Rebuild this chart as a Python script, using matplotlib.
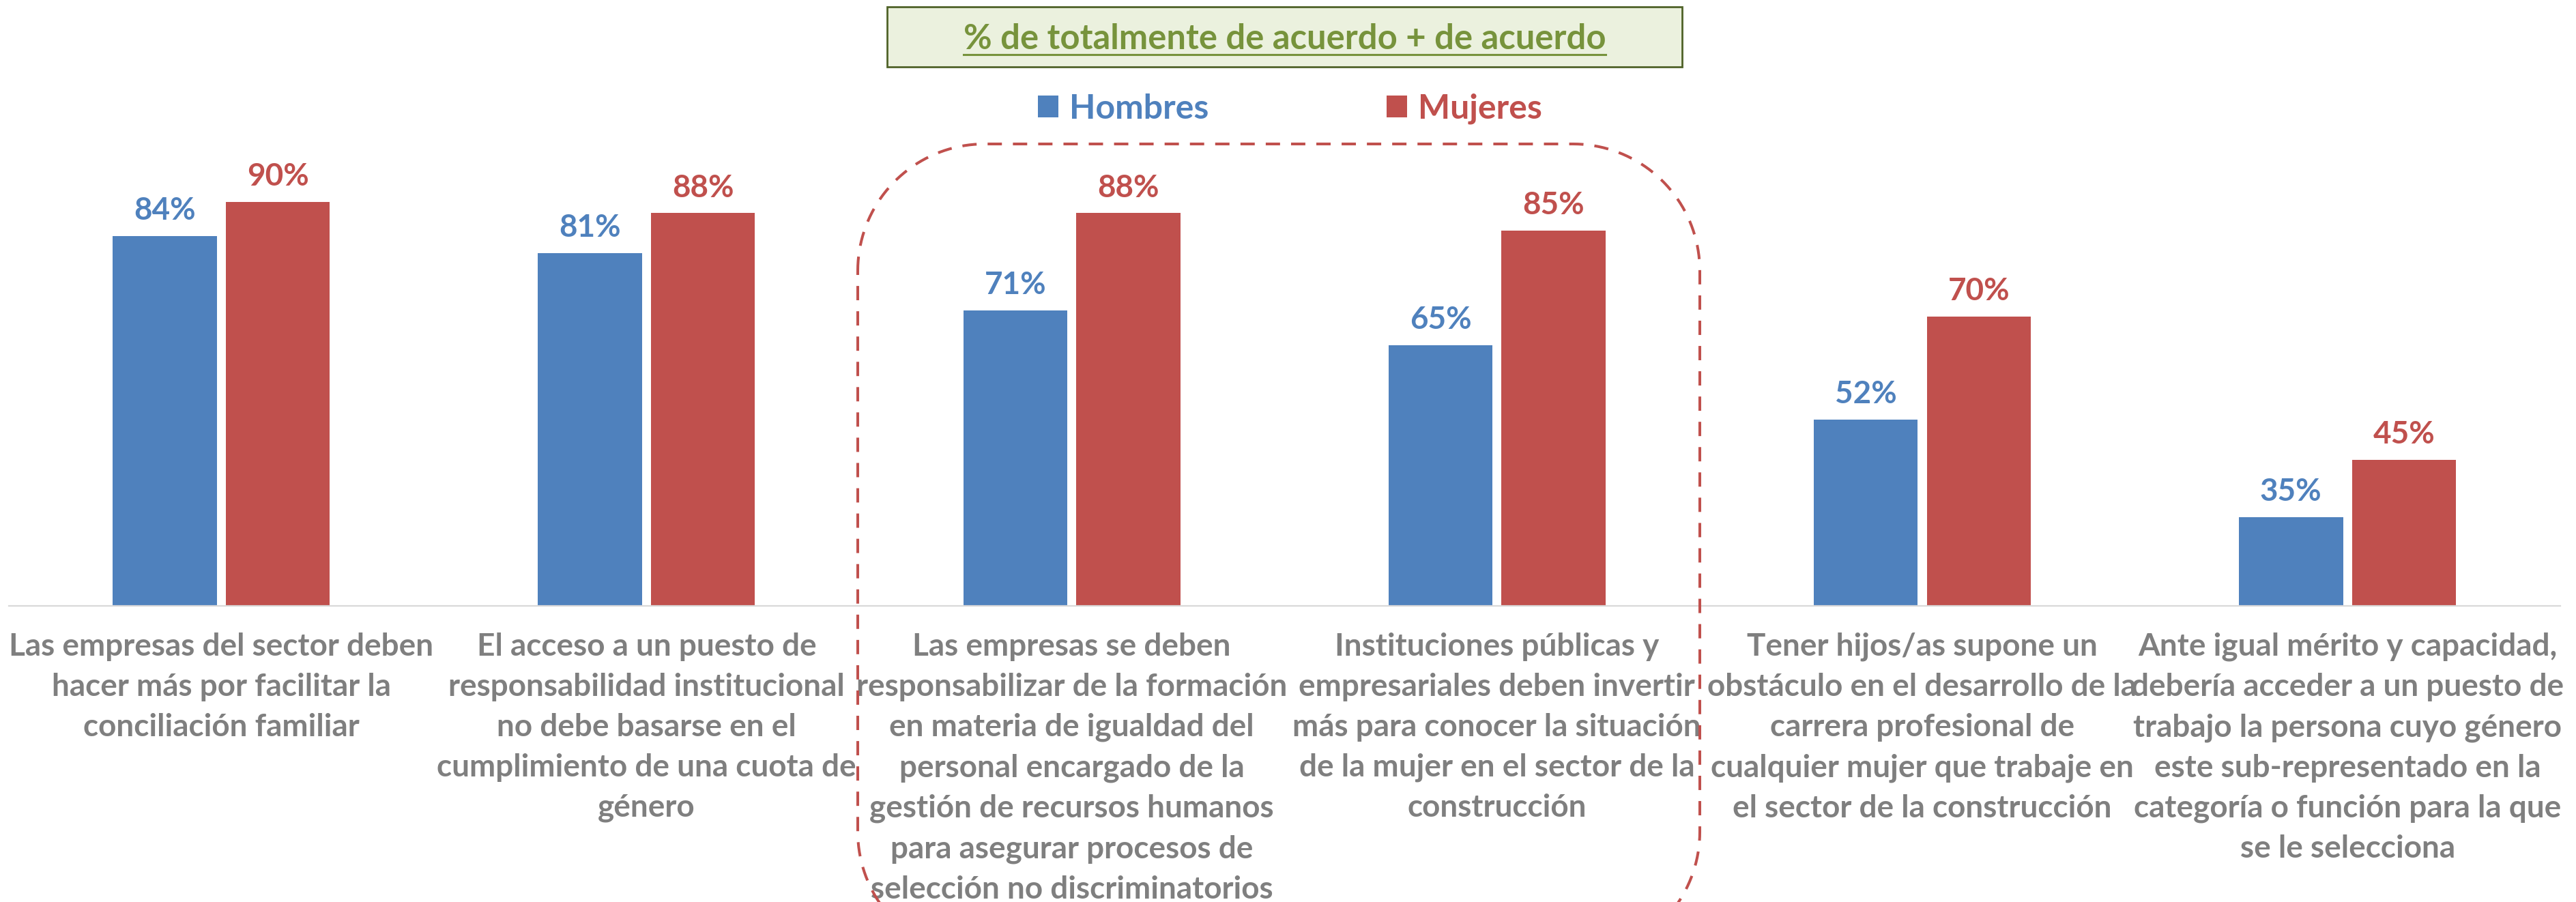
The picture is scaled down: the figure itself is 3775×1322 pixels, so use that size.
import numpy as np
import matplotlib
matplotlib.use('Agg')
import matplotlib.pyplot as plt
from matplotlib.patches import Rectangle
from matplotlib.lines import Line2D

plt.rcParams['font.family'] = ['Lato', 'DejaVu Sans']

categories = [
    'Las empresas del sector deben\nhacer más por facilitar la\nconciliación familiar',
    'El acceso a un puesto de\nresponsabilidad institucional\nno debe basarse en el\ncumplimiento de una cuota de\ngénero',
    'Las empresas se deben\nresponsabilizar de la formación\nen materia de igualdad del\npersonal encargado de la\ngestión de recursos humanos\npara asegurar procesos de\nselección no discriminatorios',
    'Instituciones públicas y\nempresariales deben invertir\nmás para conocer la situación\nde la mujer en el sector de la\nconstrucción',
    'Tener hijos/as supone un\nobstáculo en el desarrollo de la\ncarrera profesional de\ncualquier mujer que trabaje en\nel sector de la construcción',
    'Ante igual mérito y capacidad,\ndebería acceder a un puesto de\ntrabajo la persona cuyo género\neste sub-representado en la\ncategoría o función para la que\nse le selecciona',
]
hombres = [84, 81, 71, 65, 52, 35]
mujeres = [90, 88, 88, 85, 70, 45]
series_names = ['Hombres', 'Mujeres']

BLUE = '#4F81BD'
RED = '#C0504D'
GRAY = '#7F7F7F'
GREEN = '#77933C'

W, H = 3775, 1322
fig = plt.figure(figsize=(W / 100, H / 100), dpi=100)
ax = fig.add_axes([12.7 / W, 1 - 887.7 / H, 3739 / W, 676.2 / H])

x = np.arange(len(categories))
bw = 0.2446
off = 0.1329
b1 = ax.bar(x - off, hombres, bw, color=BLUE, label=series_names[0])
b2 = ax.bar(x + off, mujeres, bw, color=RED, label=series_names[1])

for bars, vals, col in [(b1, hombres, BLUE), (b2, mujeres, RED)]:
    for rect, v in zip(bars, vals):
        ax.annotate(f'{v}%', (rect.get_x() + rect.get_width() / 2, v),
                    xytext=(0, 17), textcoords='offset points',
                    ha='center', va='baseline', fontsize=33,
                    fontweight='bold', color=col)

ax.set_xlim(-0.5, 5.5)
ax.set_ylim(19.5, 100)
for s in ['top', 'left', 'right']:
    ax.spines[s].set_visible(False)
ax.spines['bottom'].set_color('#D9D9D9')
ax.spines['bottom'].set_linewidth(1.6)
ax.set_yticks([])
ax.set_xticks(x)
ax.set_xticklabels(categories, fontsize=33, fontweight='bold', color=GRAY,
                   linespacing=1.5)
ax.tick_params(axis='x', length=0, pad=28)

ax.legend(loc='center', bbox_to_anchor=(1890.5 / W, 1 - 159.5 / H),
          bbox_transform=fig.transFigure, ncol=2, frameon=False,
          prop={'size': 36, 'weight': 'bold'}, labelcolor=[BLUE, RED],
          handlelength=0.6, handleheight=0.6, handletextpad=0.32,
          columnspacing=5.2, borderaxespad=0, borderpad=0)

# title box
fig.patches.append(Rectangle((1300 / W, 1 - 98 / H), 1165 / W, 88 / H,
                             transform=fig.transFigure, facecolor='#EBF1DE',
                             edgecolor='#4F6228', linewidth=2))
title = fig.text(1882.5 / W, 1 - 71.7 / H, '% de totalmente de acuerdo + de acuerdo',
                 ha='center', va='baseline', fontsize=36.5, fontweight='bold',
                 color=GREEN)
fig.canvas.draw()
bb = title.get_window_extent()
fig.lines.append(Line2D([bb.x0 / W, bb.x1 / W], [1 - 80 / H, 1 - 80 / H],
                        transform=fig.transFigure, color=GREEN, linewidth=2.2))

# dashed rounded highlight around groups 3 and 4
x0, x1, y0, y1, r = 1257, 2491, 211, 1405, 186
t = np.linspace(0, np.pi / 2, 40)
px = np.concatenate([x0 + r - r * np.cos(t), x1 - r + r * np.sin(t),
                     x1 - r + r * np.cos(t), x0 + r - r * np.sin(t)])
py = np.concatenate([y0 + r - r * np.sin(t), y0 + r - r * np.cos(t),
                     y1 - r + r * np.sin(t), y1 - r + r * np.cos(t)])
px = np.append(px, px[0])
py = np.append(py, py[0])
fig.lines.append(Line2D(px / W, 1 - py / H, transform=fig.transFigure,
                        color=RED, linewidth=2.9, linestyle=(0, (5.2, 4.0))))

fig.savefig('out.png', dpi=100)
